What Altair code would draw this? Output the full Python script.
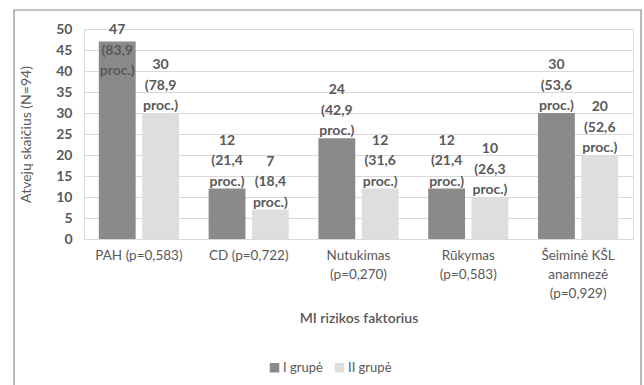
import altair as alt
import pandas as pd

categories = ["PAH (p=0,583)", "CD (p=0,722)", "Nutukimas\n(p=0,270)", "Rūkymas\n(p=0,583)", "Šeiminė KŠL\nanamnezė\n(p=0,929)"]
groups = ["I grupė", "II grupė"]
group1_counts = [47, 12, 24, 12, 30]
group1_pct = ["83,9", "21,4", "42,9", "21,4", "53,6"]
group2_counts = [30, 7, 12, 10, 20]
group2_pct = ["78,9", "18,4", "31,6", "26,3", "52,6"]
y_ticks = list(range(0, 55, 5))

rows = []
for i, c in enumerate(categories):
    rows.append({"cat": c, "grp": groups[0], "val": group1_counts[i],
                 "lab": f"{group1_counts[i]}\n({group1_pct[i]}\nproc.)"})
    rows.append({"cat": c, "grp": groups[1], "val": group2_counts[i],
                 "lab": f"{group2_counts[i]}\n({group2_pct[i]}\nproc.)"})
df = pd.DataFrame(rows)

FONT = "Lato"
TXT = "#595959"
W, H = 549, 210

x_scale = alt.Scale(paddingInner=0.27, paddingOuter=0.135)
y_scale = alt.Scale(domain=[0, 50], nice=False)
xo_enc = alt.XOffset("grp:N", sort=groups,
                     scale=alt.Scale(paddingInner=0.15, paddingOuter=0))

x_axis = alt.Axis(labelAngle=0, labelExpr="split(datum.label, '\\n')",
                  labelFontSize=13.5, labelColor=TXT, labelFont=FONT,
                  labelLineHeight=19, labelPadding=9, labelAlign="center",
                  labelOverlap=False,
                  titleFontSize=14, titleColor=TXT, titleFont=FONT,
                  titleFontWeight=600, titlePadding=12,
                  domainColor="#d9d9d9", ticks=False, grid=False)
y_axis = alt.Axis(values=y_ticks, labelFontSize=14, labelColor=TXT,
                  labelFont=FONT, labelFontWeight="bold", labelPadding=12,
                  labelOverlap=False,
                  titleFontSize=14, titleColor=TXT, titleFont=FONT,
                  titleFontWeight="normal", titlePadding=22,
                  gridColor="#d9d9d9", domain=False, ticks=False)
X_TITLE = "MI rizikos faktorius"
Y_TITLE = "Atvejų skaičius (N=94)"

bars = alt.Chart(df).mark_bar().encode(
    x=alt.X("cat:N", sort=categories, title=X_TITLE, scale=x_scale, axis=x_axis),
    xOffset=xo_enc,
    y=alt.Y("val:Q", title=Y_TITLE, scale=y_scale, axis=y_axis),
    color=alt.Color("grp:N", sort=groups, title=None,
                    scale=alt.Scale(domain=groups, range=["#8a8a8a", "#dedede"]),
                    legend=alt.Legend(orient="none", legendX=184, legendY=332,
                                      direction="horizontal", symbolType="square",
                                      symbolSize=90, symbolStrokeWidth=0,
                                      labelFontSize=13, labelColor=TXT, labelFont=FONT,
                                      columnPadding=10, labelOffset=2)),
)

labels = alt.Chart(df).transform_calculate(
    ly="min(datum.val, 38.3)"
).mark_text(baseline="bottom", align="center", lineBreak="\n", lineHeight=20.5,
            fontSize=14, fontWeight="bold", font=FONT, color=TXT, dy=-41).encode(
    x=alt.X("cat:N", sort=categories, title=X_TITLE, scale=x_scale, axis=x_axis),
    xOffset=xo_enc,
    y=alt.Y("ly:Q", title=Y_TITLE, scale=y_scale, axis=y_axis),
    text="lab:N",
)

border = alt.Chart(pd.DataFrame({"a": [0]})).mark_rect(
    fill=None, stroke="#8c8c8c", strokeWidth=1.2).encode(
    x=alt.value(-70), x2=alt.value(557), y=alt.value(-19), y2=alt.value(400))

chart = alt.layer(border, bars, labels).properties(
    width=W, height=H,
    autosize=alt.AutoSizeParams(type="none"),
    padding={"left": 84, "top": 29, "right": 11, "bottom": 146},
).configure_view(stroke=None).configure(font=FONT)

chart.save("out.html", embed_options={"renderer": "svg", "actions": False})
